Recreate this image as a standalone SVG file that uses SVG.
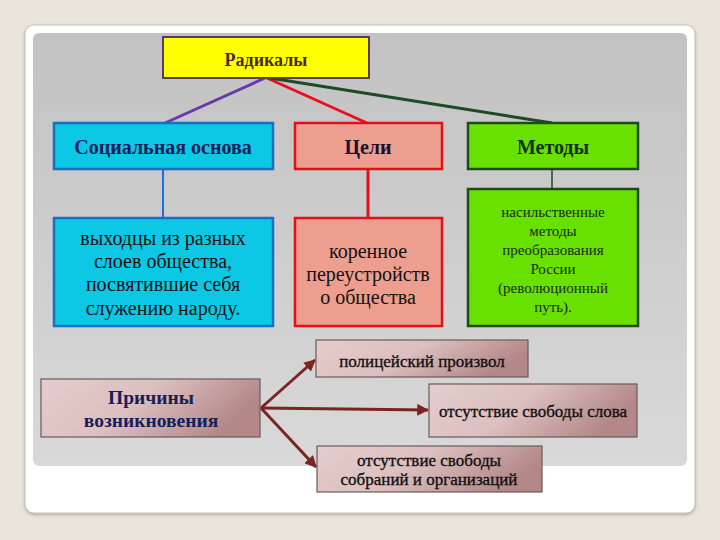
<svg xmlns="http://www.w3.org/2000/svg" width="720" height="540" viewBox="0 0 720 540">
<defs>
<linearGradient id="panel" x1="0" y1="0" x2="0" y2="1"><stop offset="0" stop-color="#c2c2c2"/><stop offset="1" stop-color="#d9d9d9"/></linearGradient>
<linearGradient id="pink" x1="0" y1="0" x2="1" y2="0.3"><stop offset="0" stop-color="#e6cccc"/><stop offset="0.5" stop-color="#dcc0c0"/><stop offset="1" stop-color="#b48888"/></linearGradient>
<marker id="ah" viewBox="0 0 10 10" refX="9" refY="5" markerWidth="4" markerHeight="4" orient="auto"><path d="M0,0 L10,5 L0,10 z" fill="#7a2424"/></marker>
<filter id="sh" x="-5%" y="-5%" width="110%" height="115%"><feDropShadow dx="0" dy="1.5" stdDeviation="1.5" flood-color="#888" flood-opacity="0.6"/></filter>
</defs>
<style>
.t{font-family:"Liberation Serif","DejaVu Serif",serif;text-anchor:middle}
.h{font-weight:bold;font-size:20px}
.n{font-size:20px;fill:#111}
.s{font-size:15px;fill:#1a2a1a}
.b{font-size:17px;fill:#111;stroke:#111;stroke-width:0.35}
.p{fill:url(#pink);stroke:#6a5a5a;stroke-width:1.2}
.c{stroke:#7a2424;stroke-width:3;fill:none;marker-end:url(#ah)}
</style>
<rect width="720" height="540" fill="#e9e5dc"/>
<rect x="25" y="25" width="670" height="488" rx="9" fill="#ffffff" stroke="#c8c4bc" stroke-width="1" filter="url(#sh)"/>
<rect x="33" y="33" width="654" height="433" rx="6" fill="url(#panel)"/>

<g id="connectors">
<line x1="265" y1="78" x2="165" y2="123" stroke="#6a3aaa" stroke-width="3"/>
<line x1="267" y1="78" x2="367" y2="123" stroke="#e81020" stroke-width="3"/>
<line x1="270" y1="78" x2="552" y2="123" stroke="#1e4a22" stroke-width="3"/>
<line x1="163" y1="169" x2="163" y2="217" stroke="#1e70e0" stroke-width="2"/>
<line x1="368" y1="169" x2="368" y2="217" stroke="#e01018" stroke-width="3"/>
<line x1="552" y1="169" x2="552" y2="188" stroke="#1e4a22" stroke-width="1.5"/>
<line x1="261" y1="408" x2="315" y2="360" class="c"/>
<line x1="261" y1="408" x2="428" y2="410" class="c"/>
<line x1="261" y1="408" x2="316" y2="467" class="c"/>
</g>

<g id="radikaly">
<rect x="163" y="37" width="206" height="41" fill="#ffff00" stroke="#5a3a62" stroke-width="2"/>
<text x="266" y="66" class="t" font-weight="bold" font-size="18" fill="#4a2a3a">Радикалы</text>
</g>
<g id="social">
<rect x="54" y="123" width="219" height="46" fill="#0cc8e4" stroke="#1a6ec4" stroke-width="2.5"/>
<text x="163" y="154" class="t h" fill="#10205a">Социальная основа</text>
</g>
<g id="tseli">
<rect x="295" y="123" width="147" height="46" fill="#ee9e8e" stroke="#e41018" stroke-width="2.5"/>
<text x="368" y="154" class="t h" fill="#1a1030">Цели</text>
</g>
<g id="metody">
<rect x="468" y="123" width="170" height="46" fill="#68e000" stroke="#1e4a22" stroke-width="2.5"/>
<text x="553" y="154" class="t h" fill="#14301a">Методы</text>
</g>
<g id="social-desc">
<rect x="54" y="218" width="219" height="108" fill="#0cc8e4" stroke="#1a6ec4" stroke-width="2.5"/>
<text class="t n"><tspan x="163" y="245">выходцы из разных</tspan><tspan x="163" y="268">слоев общества,</tspan><tspan x="163" y="291">посвятившие себя</tspan><tspan x="163" y="315">служению народу.</tspan></text>
</g>
<g id="tseli-desc">
<rect x="295" y="218" width="147" height="108" fill="#ee9e8e" stroke="#e41018" stroke-width="2.5"/>
<text class="t n" font-size="21"><tspan x="368" y="258">коренное</tspan><tspan x="368" y="281">переустройств</tspan><tspan x="368" y="304">о общества</tspan></text>
</g>
<g id="metody-desc">
<rect x="468" y="189" width="170" height="137" fill="#68e000" stroke="#1e4a22" stroke-width="2.5"/>
<text class="t s"><tspan x="553" y="217">насильственные</tspan><tspan x="553" y="236">методы</tspan><tspan x="553" y="255">преобразования</tspan><tspan x="553" y="274">России</tspan><tspan x="553" y="293">(революционный</tspan><tspan x="553" y="312">путь).</tspan></text>
</g>
<g id="prichiny">
<rect x="41" y="379" width="219" height="58" class="p"/>
<text class="t" font-weight="bold" font-size="19.5" fill="#14205a"><tspan x="151" y="404">Причины</tspan><tspan x="151" y="427">возникновения</tspan></text>
</g>
<g id="police">
<rect x="316" y="340" width="212" height="37" class="p"/>
<text x="422" y="367" class="t b">полицейский произвол</text>
</g>
<g id="slova">
<rect x="429" y="384" width="208" height="53" class="p"/>
<text x="533" y="417" class="t b" font-size="16.5">отсутствие свободы слова</text>
</g>
<g id="sobraniy">
<rect x="317" y="446" width="225" height="46" class="p"/>
<text class="t b"><tspan x="429" y="466">отсутствие свободы</tspan><tspan x="429" y="485">собраний и организаций</tspan></text>
</g>
</svg>
